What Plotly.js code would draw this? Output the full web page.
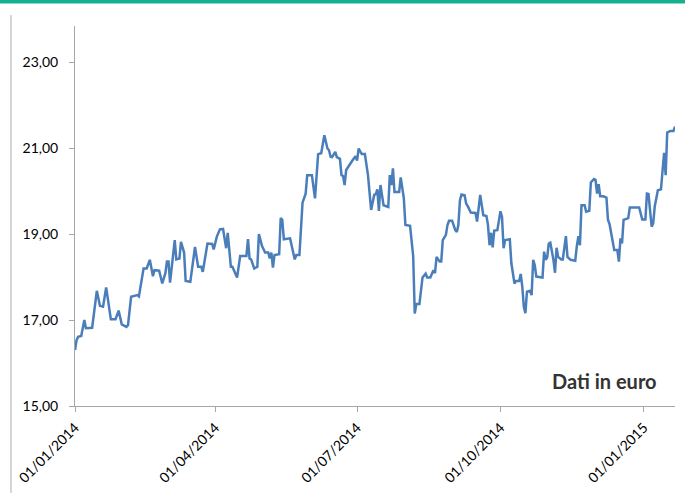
<!DOCTYPE html>
<html>
<head>
<meta charset="utf-8">
<script src="https://cdn.plot.ly/plotly-3.0.1.min.js"></script>
<style>
html,body{margin:0;padding:0;background:#fff;}
#chart{width:685px;height:493px;}
</style>
</head>
<body>
<div id="chart"></div>
<script>
const dates = [
"2014-01-01","2014-01-02","2014-01-03","2014-01-05","2014-01-07","2014-01-08","2014-01-12","2014-01-15","2014-01-17","2014-01-19",
"2014-01-21","2014-01-22","2014-01-24","2014-01-27","2014-01-29","2014-01-31","2014-02-03","2014-02-04","2014-02-06","2014-02-10",
"2014-02-11","2014-02-14","2014-02-16","2014-02-18","2014-02-20","2014-02-21","2014-02-24","2014-02-26","2014-02-28","2014-03-01",
"2014-03-02","2014-03-03","2014-03-06","2014-03-07","2014-03-09","2014-03-10","2014-03-12","2014-03-13","2014-03-16","2014-03-19",
"2014-03-21","2014-03-23","2014-03-24","2014-03-27","2014-03-30","2014-03-31","2014-04-02","2014-04-04","2014-04-06","2014-04-08",
"2014-04-09","2014-04-11","2014-04-12","2014-04-15","2014-04-17","2014-04-21","2014-04-22","2014-04-23","2014-04-24","2014-04-26",
"2014-04-28","2014-04-29","2014-05-01","2014-05-03","2014-05-05","2014-05-06","2014-05-07","2014-05-08","2014-05-09","2014-05-12",
"2014-05-13","2014-05-14","2014-05-15","2014-05-19","2014-05-22","2014-05-23","2014-05-25","2014-05-27","2014-05-29","2014-05-30",
"2014-06-02","2014-06-04","2014-06-06","2014-06-08","2014-06-10","2014-06-12","2014-06-13","2014-06-14","2014-06-15","2014-06-17",
"2014-06-18","2014-06-20","2014-06-21","2014-06-22","2014-06-23","2014-06-24","2014-06-27","2014-06-28","2014-06-30","2014-07-01",
"2014-07-02","2014-07-04","2014-07-06","2014-07-08","2014-07-10","2014-07-12","2014-07-13","2014-07-14","2014-07-15","2014-07-16",
"2014-07-18","2014-07-21","2014-07-22","2014-07-23","2014-07-24","2014-07-25","2014-07-28","2014-07-29","2014-07-31","2014-08-01",
"2014-08-04","2014-08-06","2014-08-07","2014-08-08","2014-08-10","2014-08-12","2014-08-14","2014-08-15","2014-08-17","2014-08-19",
"2014-08-20","2014-08-21","2014-08-23","2014-08-24","2014-08-25","2014-08-27","2014-08-28","2014-08-29","2014-08-31","2014-09-02",
"2014-09-03","2014-09-04","2014-09-05","2014-09-06","2014-09-08","2014-09-09","2014-09-10","2014-09-12","2014-09-15","2014-09-16",
"2014-09-18","2014-09-20","2014-09-22","2014-09-23","2014-09-24","2014-09-25","2014-09-26","2014-09-27","2014-09-29","2014-10-01",
"2014-10-02","2014-10-03","2014-10-04","2014-10-07","2014-10-08","2014-10-09","2014-10-10","2014-10-11","2014-10-13","2014-10-14",
"2014-10-15","2014-10-16","2014-10-17","2014-10-18","2014-10-20","2014-10-21","2014-10-22","2014-10-23","2014-10-24","2014-10-28",
"2014-10-29","2014-10-30","2014-10-31","2014-11-01","2014-11-02","2014-11-04","2014-11-05","2014-11-06","2014-11-07","2014-11-09",
"2014-11-10","2014-11-12","2014-11-13","2014-11-15","2014-11-18","2014-11-19","2014-11-20","2014-11-21","2014-11-22","2014-11-24",
"2014-11-25","2014-11-27","2014-11-28","2014-11-30","2014-12-01","2014-12-02","2014-12-03","2014-12-04","2014-12-06","2014-12-08",
"2014-12-09","2014-12-10","2014-12-13","2014-12-15","2014-12-16","2014-12-17","2014-12-18","2014-12-19","2014-12-22","2014-12-23",
"2014-12-29","2014-12-31","2015-01-02","2015-01-03","2015-01-04","2015-01-06","2015-01-07","2015-01-08","2015-01-10","2015-01-12",
"2015-01-13","2015-01-14","2015-01-15","2015-01-16","2015-01-18","2015-01-20","2015-01-21"
];
const prices = [
16.30,16.53,16.61,16.63,17.00,16.81,16.82,17.68,17.33,17.31,
17.76,17.47,17.02,17.02,17.22,16.90,16.84,16.88,17.54,17.58,
17.55,18.20,18.20,18.40,18.02,18.16,18.15,17.85,18.09,18.36,
18.36,17.87,18.86,18.41,18.43,18.82,18.57,17.91,17.89,18.70,
18.24,18.24,18.12,18.78,18.77,18.64,18.94,19.11,19.12,18.67,
19.03,18.24,18.24,17.99,18.49,18.49,18.88,18.43,18.41,18.20,
18.24,19.00,18.72,18.57,18.57,18.43,18.57,18.22,18.51,18.53,
19.37,19.33,18.88,18.90,18.41,18.51,18.51,19.73,19.94,20.37,
20.37,19.83,20.86,20.88,21.30,20.99,20.95,20.80,20.79,20.91,
20.79,20.75,20.37,20.35,20.14,20.49,20.68,20.71,20.81,20.71,
20.99,20.86,20.86,20.37,19.56,19.91,19.93,20.04,19.54,20.14,
19.67,19.63,20.37,20.14,20.53,19.98,19.98,20.32,19.83,19.21,
19.19,18.49,17.15,17.37,17.37,17.99,18.08,17.99,17.99,18.16,
18.09,18.47,18.36,18.36,18.86,18.98,19.21,19.31,19.31,19.09,
19.05,19.21,19.79,19.92,19.90,19.71,19.65,19.50,19.49,19.29,
19.91,19.44,19.42,19.21,18.74,19.03,18.69,19.08,19.09,19.53,
19.40,18.67,18.86,18.88,18.32,18.12,17.85,17.91,17.91,18.07,
17.78,17.31,17.16,17.66,17.68,17.58,18.40,18.28,18.01,17.99,
18.59,18.40,18.46,18.78,18.80,18.40,18.10,18.68,18.47,18.41,
18.41,18.95,18.47,18.40,18.38,18.72,18.95,18.74,19.67,19.67,
19.52,19.54,20.20,20.28,20.26,19.94,20.16,19.88,19.88,19.85,
19.33,19.23,18.63,18.63,18.36,18.90,18.78,19.33,19.37,19.62,
19.62,19.34,19.34,19.94,19.93,19.17,19.25,19.64,20.02,20.04,
20.57,20.89,20.37,21.36,21.40,21.40,21.50
];
const xTickVals = ["2014-01-01","2014-04-01","2014-07-01","2014-10-01","2015-01-01"];
const xTickText = ["01/01/2014","01/04/2014","01/07/2014","01/10/2014","01/01/2015"];
const yTickVals = [15,17,19,21,23];
const yTickText = ["15,00","17,00","19,00","21,00","23,00"];
const noteText = "Dati in euro";

const axisColor = "#a6a6a6";
const tickFont = {family:"Lato, 'Open Sans', sans-serif", size:14, color:"#000"};

const trace = {
  x: dates, y: prices, type:"scatter", mode:"lines",
  line:{color:"#4a7ebb", width:2.5}, hoverinfo:"skip"
};

const layout = {
  width:685, height:493,
  margin:{l:75, r:10, t:26, b:87, pad:0},
  paper_bgcolor:"#fff", plot_bgcolor:"#fff",
  showlegend:false,
  xaxis:{
    type:"date", range:["2014-01-01","2015-01-21"],
    tickvals:xTickVals, ticktext:xTickText, tickangle:-45,
    showgrid:false, zeroline:false, showline:true, linecolor:axisColor, linewidth:1,
    ticks:"outside", ticklen:5, tickcolor:axisColor, tickfont:tickFont,
    ticklabelstandoff:2
  },
  yaxis:{
    range:[15,23.84],
    tickvals:yTickVals, ticktext:yTickText,
    showgrid:false, zeroline:false, showline:true, linecolor:axisColor, linewidth:1,
    ticks:"outside", ticklen:5, tickcolor:axisColor, tickfont:tickFont,
    ticklabelstandoff:8
  },
  shapes:[
    {type:"rect", xref:"paper", yref:"paper", x0:-0.2, x1:1.1, y0:(406-3.5)/380, y1:1.2,
     fillcolor:"#17b08f", line:{width:0}},
    {type:"line", xref:"paper", yref:"paper", x0:(11-75)/600, x1:(11-75)/600, y0:(406-15)/380, y1:(406-495)/380,
     line:{color:"#c8c8c8", width:1.5}}
  ],
  annotations:[
    {text:noteText, xref:"paper", yref:"paper", x:(659-75)/600, y:(406-381)/380,
     xanchor:"right", yanchor:"middle", showarrow:false,
     font:{family:"Lato, sans-serif", size:20, color:"#333", weight:700}}
  ]
};

Plotly.newPlot("chart", [trace], layout, {staticPlot:true, displayModeBar:false});
</script>
</body>
</html>
